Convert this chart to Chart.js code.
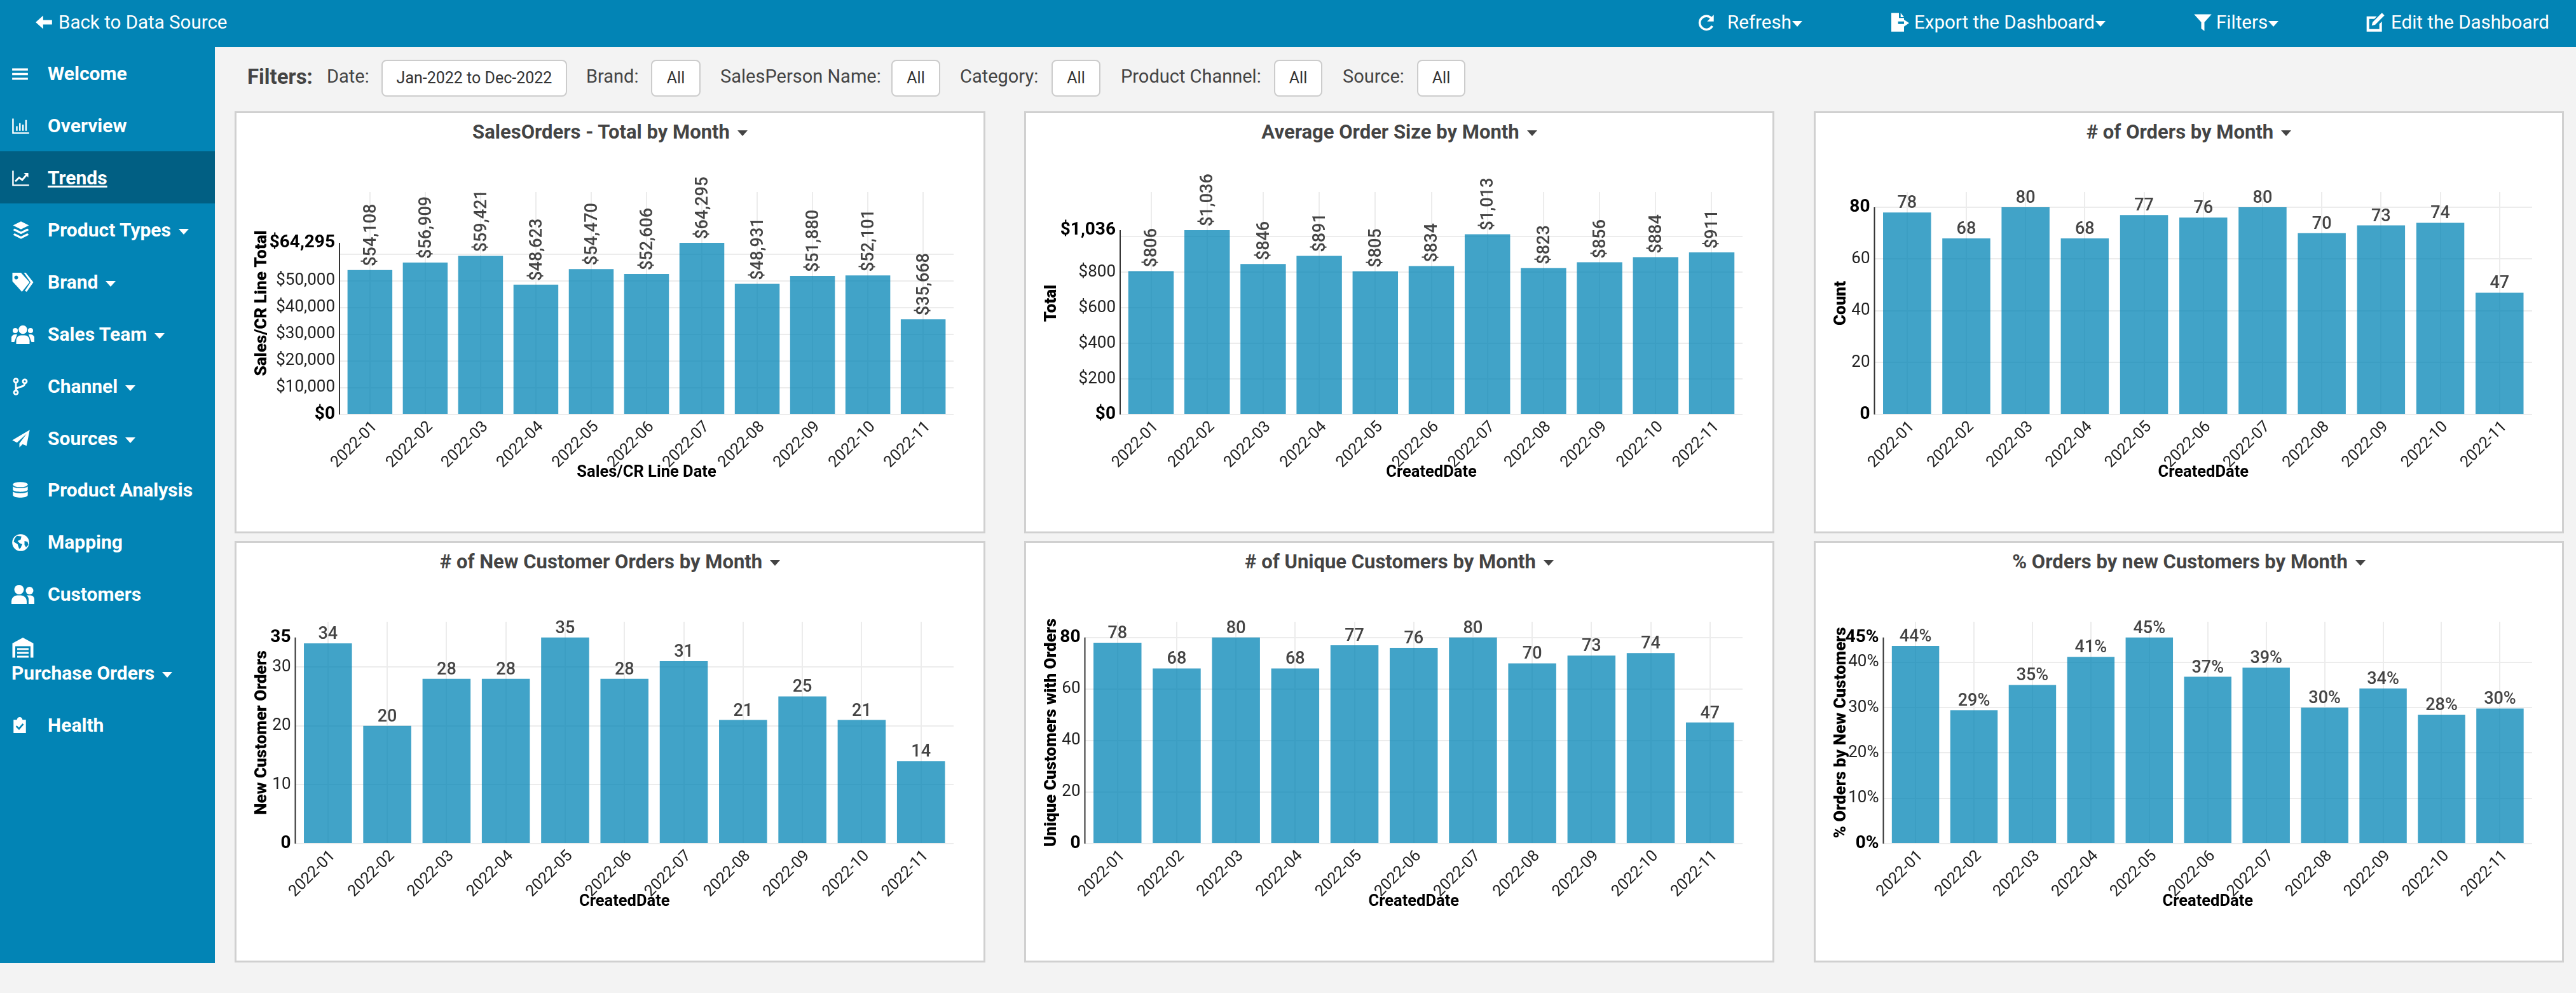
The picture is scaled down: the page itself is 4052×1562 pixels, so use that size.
<!DOCTYPE html>
<html>
<head>
<meta charset="utf-8">
<title>Trends</title>
<script src="https://cdn.jsdelivr.net/npm/chart.js@4"></script>
<style>
html, body { margin: 0; padding: 0; width: 4052px; height: 1562px; overflow: hidden; background: #f3f3f3; font-family: Roboto, sans-serif; }
.abs { position: absolute; white-space: nowrap; }
#topbar { left: 0; top: 0; width: 4052px; height: 74px; background: #0284b5; }
#sidebar { left: 0; top: 74px; width: 338px; height: 1441px; background: #0284b5; }
#active-row { left: 0; top: 238px; width: 338px; height: 82px; background: #015f83; }
.top-text { color: #fff; font-size: 29.5px; line-height: 34px; }
.side-text { color: #fff; font-size: 30px; font-weight: 700; line-height: 36px; }
.caret { display: inline-block; width: 0; height: 0; border-left: 8px solid transparent; border-right: 8px solid transparent; border-top: 9px solid currentColor; vertical-align: middle; }
.filter-label { color: #444; font-size: 29px; line-height: 34px; }
.filter-btn { background: #fff; border: 2px solid #ccc; border-radius: 8px; box-sizing: border-box; height: 58px; color: #333; font-size: 25px; line-height: 54px; text-align: center; }
.card { background: #fff; border: 3px solid #d0d0d0; box-sizing: border-box; }
.card-title { color: #444; font-size: 31px; font-weight: 700; line-height: 36px; text-align: center; }
canvas { position: absolute; display: block; }
</style>
</head>
<body>
<script>
// chart values
const months = ['2022-01', '2022-02', '2022-03', '2022-04', '2022-05', '2022-06', '2022-07', '2022-08', '2022-09', '2022-10', '2022-11'];
const salesTotals = [54108, 56909, 59421, 48623, 54470, 52606, 64295, 48931, 51880, 52101, 35668];
const avgOrderSizes = [806, 1036, 846, 891, 805, 834, 1013, 823, 856, 884, 911];
const orderCounts = [78, 68, 80, 68, 77, 76, 80, 70, 73, 74, 47];
const newCustomerOrders = [34, 20, 28, 28, 35, 28, 31, 21, 25, 21, 14];
const uniqueCustomers = [78, 68, 80, 68, 77, 76, 80, 70, 73, 74, 47];
const newCustomerPct = [43.6, 29.4, 35, 41.2, 45.45, 36.8, 38.8, 30, 34.2, 28.4, 29.8];

const salesTicks = [0, 10000, 20000, 30000, 40000, 50000, 60000, 64295];
const avgOrderTicks = [0, 200, 400, 600, 800, 1000, 1036];
const orderTicks = [0, 20, 40, 60, 80];
const newOrderTicks = [0, 10, 20, 30, 35];
const uniqueTicks = [0, 20, 40, 60, 80];
const pctTicks = [0, 10, 20, 30, 40, 45.45];

const money = v => '$' + Math.round(v).toLocaleString('en-US');
const plain = v => String(Math.round(v));
const pct = v => Math.round(v) + '%';

const panels = [
    { title: 'SalesOrders - Total by Month', yTitle: 'Sales/CR Line Total', xTitle: 'Sales/CR Line Date', values: salesTotals, ticks: salesTicks, step: 10000, format: money, rotated: true, headroom: 1.296, left: 369, top: 175, width: 1181, height: 664, yWidth: 165 },
    { title: 'Average Order Size by Month', yTitle: 'Total', xTitle: 'CreatedDate', values: avgOrderSizes, ticks: avgOrderTicks, step: 200, format: money, rotated: true, headroom: 1.207, left: 1611, top: 175, width: 1180, height: 664, yWidth: 151 },
    { title: '# of Orders by Month', yTitle: 'Count', xTitle: 'CreatedDate', values: orderCounts, ticks: orderTicks, step: 20, format: plain, rotated: false, headroom: 1.0736, left: 2853, top: 175, width: 1180, height: 664, yWidth: 95.5 },
    { title: '# of New Customer Orders by Month', yTitle: 'New Customer Orders', xTitle: 'CreatedDate', values: newCustomerOrders, ticks: newOrderTicks, step: 10, format: plain, rotated: false, headroom: 1.0767, left: 369, top: 851, width: 1181, height: 663, yWidth: 95.5 },
    { title: '# of Unique Customers by Month', yTitle: 'Unique Customers with Orders', xTitle: 'CreatedDate', values: uniqueCustomers, ticks: uniqueTicks, step: 20, format: plain, rotated: false, headroom: 1.0767, left: 1611, top: 851, width: 1180, height: 663, yWidth: 95.5 },
    { title: '% Orders by new Customers by Month', yTitle: '% Orders by New Customers', xTitle: 'CreatedDate', values: newCustomerPct, ticks: pctTicks, step: 10, format: pct, rotated: false, headroom: 1.0767, left: 2853, top: 851, width: 1180, height: 663, yWidth: 109.5 }
];

const ICONS = {
    arrow: '<path d="M1 12l10-9v6h12v6H11v6z"/>',
    redo: '<path d="M19 7a9 9 0 1 0 1 10" fill="none" stroke="#fff" stroke-width="3"/><path d="M22 2v9h-9z"/>',
    fileExport: '<path d="M3 1h9v6h6v4h-7v3h7v9H3z"/><path d="M14 1l4 5h-4z"/><path d="M18 9l6 4-6 4z"/>',
    filter: '<path d="M1 2h22l-9 10v11l-4-3v-8z"/>',
    edit: '<path d="M3 5h11l-3 3H5v12h12v-6l3-3v12H2V5z"/><path d="M9 12L20 1l3 3-11 11-4 1z"/>',
    bars: '<path d="M1 4h22v3H1zM1 10.5h22v3H1zM1 17h22v3H1z"/>',
    chartBar: '<path d="M1 2h2v18h20v2H1z"/><path d="M6 12h2v6H6zM10 8h2v10h-2zM14 10h2v8h-2zM18 4h2v14h-2z"/>',
    chartLine: '<path d="M1 2h2v18h20v2H1z"/><path d="M5 16l5-5 4 3 6-7" fill="none" stroke="#fff" stroke-width="2.4"/><path d="M16 5h6v6z"/>',
    layers: '<path d="M12 1l10 5-10 5L2 6z"/><path d="M4 10l8 4 8-4 2 2-10 5-10-5z"/><path d="M4 16l8 4 8-4 2 2-10 5-10-5z"/>',
    tags: '<path fill-rule="evenodd" d="M1 2h9l9 10-8 10L1 11zM5 5a2 2 0 1 0 .01 0z"/><path d="M13 2h2l8 10-7 10-2-1 6-9z"/>',
    users: '<circle cx="12" cy="7" r="4.5"/><circle cx="4" cy="8" r="2.7"/><circle cx="20" cy="8" r="2.7"/><path d="M5 22v-4a5 5 0 0 1 5-5h4a5 5 0 0 1 5 5v4z"/><path d="M0 17a4 4 0 0 1 4-5h2l-3 8H0zM24 17a4 4 0 0 0-4-5h-2l3 8h3z"/>',
    branch: '<g fill="none" stroke="#fff" stroke-width="2.4"><circle cx="6" cy="4" r="2.6"/><circle cx="6" cy="20" r="2.6"/><circle cx="18" cy="5" r="2.6"/><path d="M6 7v10M18 8c0 6-12 3-12 9"/></g>',
    plane: '<path d="M23 1L1 14l6 3L19 6 10 18v5l4-4 5 2z"/>',
    database: '<ellipse cx="12" cy="4.5" rx="10" ry="3.5"/><path d="M2 7c3 3 17 3 20 0v5c-3 3-17 3-20 0zM2 14c3 3 17 3 20 0v5c-2 4-18 4-20 0z"/>',
    globe: '<circle cx="12" cy="12" r="11"/><path d="M7 3l6 1-1 4-4 2 3 3 3 1-2 5-2 1-2-6-5-3 1-4zM17 10l4 1 1 4-3 3-2-3z" fill="#0284b5"/>',
    friends: '<circle cx="8" cy="7" r="5"/><circle cx="19" cy="8" r="4"/><path d="M0 22v-3a6 6 0 0 1 6-6h4a6 6 0 0 1 6 6v3zM18 22v-4a6 6 0 0 0-2-5h4a4 4 0 0 1 4 4v5z"/>',
    warehouse: '<path d="M1 8L12 2l11 6v15h-3V11H4v12H1z"/><path d="M6 13h12v2H6zM6 17h12v2H6zM6 21h12v2H6z"/>',
    clipboard: '<path d="M3 4h5a4 4 0 0 1 8 0h5v19H3z"/><path d="M7 13l4 4 6-7" fill="none" stroke="#0284b5" stroke-width="2.4"/>'
};

const sideItems = [
    { label: 'Welcome', icon: 'bars', y: 116, size: 27 },
    { label: 'Overview', icon: 'chartBar', y: 198, size: 29 },
    { label: 'Trends', icon: 'chartLine', y: 280, size: 29 },
    { label: 'Product Types', icon: 'layers', y: 362, size: 30, caret: true },
    { label: 'Brand', icon: 'tags', y: 444, size: 36, caret: true },
    { label: 'Sales Team', icon: 'users', y: 526, size: 36, caret: true },
    { label: 'Channel', icon: 'branch', y: 608, size: 28, caret: true },
    { label: 'Sources', icon: 'plane', y: 690, size: 30, caret: true },
    { label: 'Product Analysis', icon: 'database', y: 771, size: 28 },
    { label: 'Mapping', icon: 'globe', y: 853, size: 29 },
    { label: 'Customers', icon: 'friends', y: 935, size: 36 },
    { label: 'Health', icon: 'clipboard', y: 1141, size: 26 }
];

const topItems = [
    { label: 'Back to Data Source', icon: 'arrow', iconX: 55, iconSize: 28, textX: 92 },
    { label: 'Refresh', icon: 'redo', iconX: 2670, iconSize: 28, textX: 2717, caret: true },
    { label: 'Export the Dashboard', icon: 'fileExport', iconX: 2971, iconSize: 32, textX: 3011, caret: true },
    { label: 'Filters', icon: 'filter', iconX: 3450, iconSize: 30, textX: 3486, caret: true },
    { label: 'Edit the Dashboard', icon: 'edit', iconX: 3720, iconSize: 32, textX: 3761 }
];

const filterLabels = [
    { label: 'Date:', x: 514 },
    { label: 'Brand:', x: 922 },
    { label: 'SalesPerson Name:', x: 1133 },
    { label: 'Category:', x: 1510 },
    { label: 'Product Channel:', x: 1763 },
    { label: 'Source:', x: 2112 }
];
const filterButtons = [
    { label: 'Jan-2022 to Dec-2022', x: 600, w: 292 },
    { label: 'All', x: 1024, w: 78 },
    { label: 'All', x: 1402, w: 77 },
    { label: 'All', x: 1654, w: 77 },
    { label: 'All', x: 2004, w: 76 },
    { label: 'All', x: 2229, w: 76 }
];

function addBox(className, left, top, html, extra) {
    const el = document.createElement('div');
    el.className = 'abs ' + className;
    el.style.left = left + 'px';
    el.style.top = top + 'px';
    if (html) el.innerHTML = html;
    if (extra) Object.assign(el.style, extra);
    document.body.appendChild(el);
    return el;
}

function addIcon(name, x, y, size) {
    addBox('', x, y - size / 2, `<svg width="${size}" height="${size}" viewBox="0 0 24 24" fill="#fff" style="display:block">${ICONS[name]}</svg>`);
}

function buildPage() {
    addBox('', 0, 0).id = 'topbar';
    addBox('', 0, 74).id = 'sidebar';
    addBox('', 0, 238).id = 'active-row';

    topItems.forEach(item => {
        addIcon(item.icon, item.iconX, 35, item.iconSize);
        const caret = item.caret ? '<span class="caret" style="margin-left:1px"></span>' : '';
        addBox('top-text', item.textX, 18, item.label + caret);
    });

    sideItems.forEach(item => {
        addIcon(item.icon, 18, item.y, item.size);
        const caret = item.caret ? '<span class="caret" style="margin-left:12px"></span>' : '';
        const text = item.label === 'Trends' ? `<u>${item.label}</u>` : item.label;
        addBox('side-text', 75, item.y - 18, text + caret);
    });
    addIcon('warehouse', 18, 1018, 36);
    addBox('side-text', 18, 1041, 'Purchase Orders<span class="caret" style="margin-left:12px"></span>');

    addBox('', 389, 102, 'Filters:', { color: '#444', fontSize: '33px', fontWeight: '700', lineHeight: '38px' });
    filterLabels.forEach(f => addBox('filter-label', f.x, 103, f.label));
    filterButtons.forEach(b => addBox('filter-btn', b.x, 93.5, b.label, { width: b.w + 'px' }));

    panels.forEach((panel, i) => {
        addBox('card', panel.left, panel.top, '', { width: panel.width + 'px', height: panel.height + 'px' });
        addBox('card-title', panel.left, panel.top + 15, panel.title + '<span class="caret" style="margin-left:12px"></span>', { width: panel.width + 'px' });
        const canvas = document.createElement('canvas');
        canvas.id = 'chart-' + i;
        canvas.width = panel.width;
        canvas.height = panel.height;
        canvas.style.left = panel.left + 'px';
        canvas.style.top = panel.top + 'px';
        document.body.appendChild(canvas);
        drawPanel(canvas, panel);
    });
}

// value labels over the bars
const barLabels = {
    id: 'barLabels',
    afterDatasetsDraw(chart, args, opts) {
        const ctx = chart.ctx;
        const bars = chart.getDatasetMeta(0).data;
        ctx.save();
        ctx.fillStyle = '#444';
        ctx.font = '500 27px Roboto';
        bars.forEach((bar, i) => {
            const text = opts.format(chart.data.datasets[0].data[i]);
            if (opts.rotated) {
                ctx.save();
                ctx.translate(bar.x + 2, bar.y - 6);
                ctx.rotate(-Math.PI / 2);
                ctx.textAlign = 'left';
                ctx.textBaseline = 'middle';
                ctx.fillText(text, 0, 0);
                ctx.restore();
            } else {
                ctx.textAlign = 'center';
                ctx.textBaseline = 'alphabetic';
                ctx.fillText(text, bar.x, bar.y - 7);
            }
        });
        ctx.restore();
    }
};

// y axis line only spans 0..max, the plot carries on above it
const shortAxis = {
    id: 'shortAxis',
    afterDatasetsDraw(chart, args, opts) {
        const y = chart.scales.y;
        const ctx = chart.ctx;
        ctx.save();
        ctx.strokeStyle = '#333';
        ctx.lineWidth = 2;
        ctx.beginPath();
        ctx.moveTo(chart.chartArea.left, y.getPixelForValue(opts.top));
        ctx.lineTo(chart.chartArea.left, y.getPixelForValue(0));
        ctx.stroke();
        ctx.restore();
    }
};

// small extra gap at both ends of the band axis
const bandInset = {
    id: 'bandInset',
    afterLayout(chart) {
        const x = chart.scales.x;
        x._startValue -= 0.05;
        x._valueRange += 0.1;
    }
};

const tickValue = c => (c.tick ? c.tick.value : null);

function drawPanel(canvas, panel) {
    const top = panel.ticks[panel.ticks.length - 1];
    const isEnd = c => tickValue(c) === 0 || tickValue(c) === top;
    new Chart(canvas, {
        type: 'bar',
        data: {
            labels: months,
            datasets: [{
                data: panel.values,
                backgroundColor: 'rgba(2, 132, 181, 0.75)',
                barPercentage: 0.81,
                categoryPercentage: 1
            }]
        },
        plugins: [bandInset, barLabels, shortAxis],
        options: {
            responsive: false,
            animation: false,
            devicePixelRatio: 1,
            layout: { padding: { top: 127, right: 50, bottom: 80, left: 0 } },
            plugins: {
                legend: { display: false },
                tooltip: { enabled: false },
                barLabels: { format: panel.format, rotated: panel.rotated },
                shortAxis: { top: top }
            },
            scales: {
                x: {
                    afterFit: scale => { scale.height = 107; },
                    grid: { offset: false, color: '#ececec', lineWidth: 2, drawTicks: false },
                    border: { display: false },
                    ticks: { minRotation: 45, maxRotation: 45, autoSkip: false, padding: 5, labelOffset: 8, color: '#222', font: { family: 'Roboto', size: 25 } },
                    title: { display: true, text: panel.xTitle, color: '#000', padding: 0, font: { family: 'Roboto', size: 25.5, weight: '700' } }
                },
                y: {
                    min: 0,
                    max: top * panel.headroom,
                    afterBuildTicks: scale => { scale.ticks = panel.ticks.map(v => ({ value: v })); },
                    afterFit: scale => { scale.width = panel.yWidth; },
                    grid: {
                        drawTicks: false,
                        lineWidth: 2,
                        color: c => (tickValue(c) % panel.step === 0 ? '#ececec' : 'rgba(0,0,0,0)')
                    },
                    border: { display: false },
                    ticks: {
                        autoSkip: false,
                        padding: 7,
                        color: c => (isEnd(c) ? '#000' : '#222'),
                        font: c => (isEnd(c)
                            ? { family: 'Roboto', size: 28, weight: '700' }
                            : { family: 'Roboto', size: 26 }),
                        callback: v => (v !== top && top - v < panel.step / 2 ? '' : panel.format(v))
                    },
                    title: { display: true, text: panel.yTitle, color: '#000', padding: { top: 28, bottom: 0 }, font: { family: 'Roboto', size: 26, weight: '900' } }
                }
            }
        }
    });
}

document.addEventListener('DOMContentLoaded', buildPage);
</script>
</body>
</html>
